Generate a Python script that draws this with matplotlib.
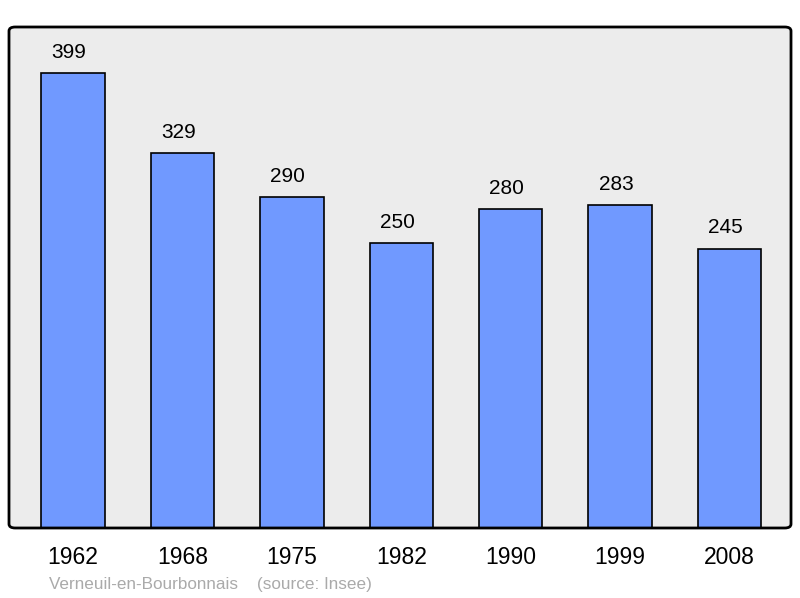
import matplotlib.pyplot as plt
from matplotlib.patches import FancyBboxPatch

years = ["1962", "1968", "1975", "1982", "1990", "1999", "2008"]
population = [399, 329, 290, 250, 280, 283, 245]

plt.rcParams['font.family'] = ['Liberation Sans', 'DejaVu Sans']

fig = plt.figure(figsize=(8, 5.98), dpi=100)
ax = fig.add_axes([9 / 800, 1 - 528 / 598, 782 / 800, 501 / 598])
ax.set_facecolor("#ececec")

x = range(len(years))
bars = ax.bar(x, population, width=0.58, color="#7099ff", edgecolor="black",
              linewidth=1.2, zorder=2)
for xi, v in zip(x, population):
    ax.annotate(str(v), (xi, v), xytext=(-3, 8), textcoords="offset points",
                ha="center", va="bottom", fontsize=15)

ax.set_xlim(-0.585, 6.562)
ax.set_ylim(0, 439.3)
ax.set_xticks(list(x))
ax.set_xticklabels(years, fontsize=16.5)
ax.tick_params(axis="x", length=0, pad=13)
ax.set_yticks([])
for s in ax.spines.values():
    s.set_visible(False)

# rounded frame around the plot area
frame = FancyBboxPatch((0, 0), 1, 1, boxstyle="round,pad=0,rounding_size=0.008",
                       transform=ax.transAxes, facecolor="none", edgecolor="black",
                       linewidth=2, clip_on=False, zorder=5)
ax.add_patch(frame)

fig.text(49 / 800, 1 - 584 / 598, "Verneuil-en-Bourbonnais    (source: Insee)",
         color="#aaaaaa", fontsize=12.3, va="center", ha="left")

fig.savefig("out.png", dpi=100)
